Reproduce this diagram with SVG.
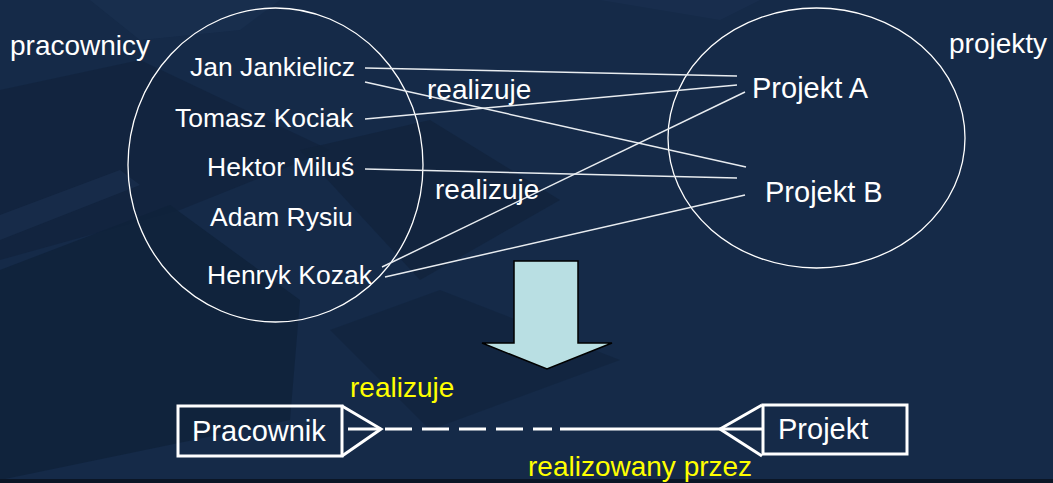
<svg xmlns="http://www.w3.org/2000/svg" width="1053" height="483" viewBox="0 0 1053 483">
<defs>
<style>
.t{font-family:"Liberation Sans",Arial,sans-serif;fill:#ffffff}
.n{font-size:26.5px}
.m{font-size:28px}
.b{font-size:29px}
.y{fill:#ffff00}
.ell{fill:none;stroke:#ffffff;stroke-width:1.3}
.ln{fill:none;stroke:#e8ecf0;stroke-width:1.5}
.box{fill:none;stroke:#ffffff;stroke-width:3}
.rel{fill:none;stroke:#ffffff;stroke-width:3}
</style>
</defs>
<g id="background">
<rect x="0" y="0" width="1053" height="483" fill="#152a48"/>
<polygon points="0,90 140,60 330,150 180,210 0,260" fill="#11233d" opacity="0.8"/>
<polygon points="0,270 170,205 300,300 290,420 0,480" fill="#10223b" opacity="0.9"/>
<polygon points="300,150 430,120 560,200 420,280" fill="#11233c" opacity="0.8"/>
<polygon points="330,330 440,290 620,360 430,430" fill="#11233c" opacity="0.6"/>
<polygon points="90,0 280,0 240,30 140,40" fill="#1a3150" opacity="0.7"/>
<polygon points="0,215 120,170 140,185 0,240" fill="#1a3150" opacity="0.6"/>
<polygon points="600,0 760,0 720,20" fill="#1a3152" opacity="0.6"/>
<rect x="0" y="479" width="1053" height="4" fill="#0b1626"/>
</g>
<g id="pracownicy-set">
<ellipse class="ell" cx="275.5" cy="165" rx="147.5" ry="157"/>
<text class="t m" x="10" y="55">pracownicy</text>
</g>
<g id="projekty-set">
<ellipse class="ell" cx="816.5" cy="138" rx="148.5" ry="130"/>
<text class="t m" x="949" y="53">projekty</text>
</g>
<g id="jan"><text class="t n" x="190" y="76">Jan Jankielicz</text></g>
<g id="tomasz"><text class="t n" x="175" y="127">Tomasz Kociak</text></g>
<g id="hektor"><text class="t n" x="207" y="176">Hektor Miluś</text></g>
<g id="adam"><text class="t n" x="210" y="226">Adam Rysiu</text></g>
<g id="henryk"><text class="t n" x="207" y="284">Henryk Kozak</text></g>
<g id="projektA"><text class="t b" x="752" y="98">Projekt A</text></g>
<g id="projektB"><text class="t b" x="765" y="202">Projekt B</text></g>
<g id="connectors">
<line class="ln" x1="365" y1="68" x2="737" y2="76"/>
<line class="ln" x1="365" y1="82" x2="746" y2="167"/>
<line class="ln" x1="365" y1="119" x2="737" y2="85"/>
<line class="ln" x1="365" y1="169" x2="737" y2="178"/>
<line class="ln" x1="382" y1="267" x2="745" y2="92"/>
<line class="ln" x1="385" y1="277" x2="745" y2="195"/>
<text class="t m" x="427" y="99">realizuje</text>
<text class="t m" x="435" y="199">realizuje</text>
</g>
<g id="transform-arrow">
<polygon points="514,261 578,261 578,343 612,343 547,369 482,343 514,343" fill="#b9dfe3" stroke="#000000" stroke-width="1.5"/>
</g>
<g id="pracownik">
<rect class="box" x="178" y="406" width="164" height="50"/>
<text class="t b" x="192" y="441">Pracownik</text>
</g>
<g id="projekt">
<rect class="box" x="763" y="405" width="144" height="49"/>
<text class="t b" x="778" y="439">Projekt</text>
</g>
<g id="relationship">
<polyline class="rel" points="342,406 381,429 342,456"/>
<line class="rel" x1="348" y1="429" x2="381" y2="429"/>
<line class="rel" x1="385" y1="429" x2="552" y2="429" stroke-dasharray="27 10"/>
<line class="rel" x1="560" y1="429" x2="762" y2="429"/>
<polyline class="rel" points="762,405 720,429 762,456"/>
<text class="t m y" x="350" y="397">realizuje</text>
<text class="t m y" x="528" y="476">realizowany przez</text>
</g>
</svg>
